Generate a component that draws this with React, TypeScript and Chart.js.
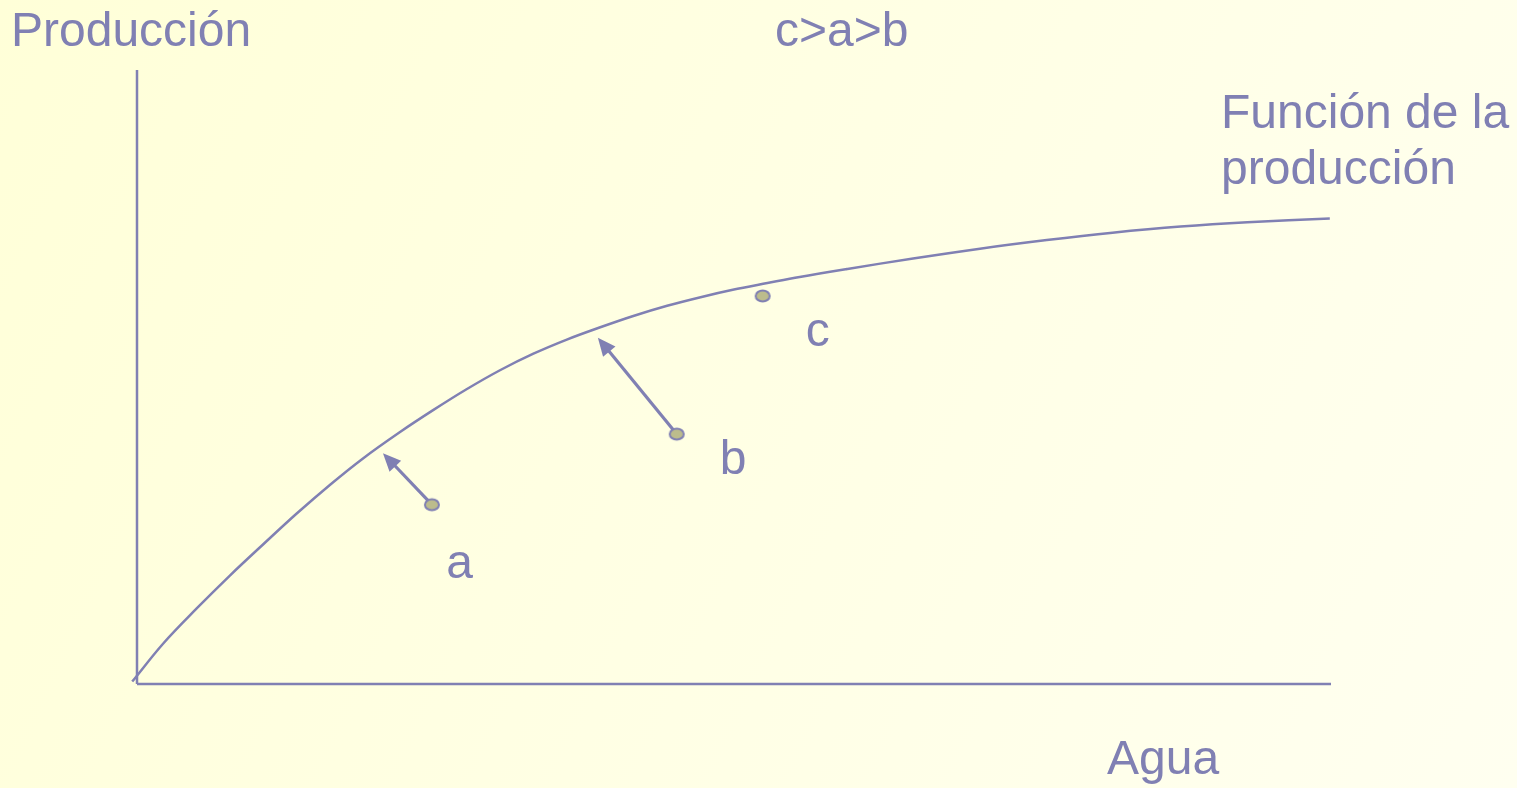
import React, { useEffect, useRef } from "react";
import { Chart, registerables } from "chart.js";

Chart.register(...registerables);

// ---- data (Agua 0–100, Producción 0–100) ----
const curveX = [-0.4, 2.2, 5.0, 7.8, 10.6, 13.4, 16.2, 18.9, 22.0, 24.8, 27.6, 30.4, 33.2, 36.0, 38.8, 41.5, 44.4, 47.2, 49.9, 52.8, 55.5, 59.5, 65.0, 70.6, 76.2, 81.7, 87.4, 93.0, 99.9];
const curveY = [0.4, 6.6, 12.3, 17.7, 22.8, 27.8, 32.5, 36.7, 41.0, 44.6, 48.0, 51.1, 53.8, 56.1, 58.1, 59.9, 61.6, 63.0, 64.2, 65.3, 66.3, 67.6, 69.3, 70.9, 72.3, 73.5, 74.5, 75.2, 75.8];

const pointLabels = ["a", "b", "c"];
const pointX = [24.7, 45.2, 52.4];
const pointY = [29.2, 40.7, 63.2];
const labelX = [25.9, 48.8, 56.0];
const labelY = [17.3, 34.2, 55.1];

const arrowFromX = [24.7, 45.2];
const arrowFromY = [29.2, 40.7];
const arrowTipX = [20.6, 38.6];
const arrowTipY = [37.6, 56.4];

const axisMin = -5;
const axisMax = 100;

const titleText = "c>a>b";
const yTitle = "Producción";
const xTitle = "Agua";
const curveLabel = ["Función de la", "producción"];

const COLOR = "#8080b3";
const DOT_FILL = "#bcbc8c";
const FONT = '48px "Liberation Sans", Arial, Helvetica, sans-serif';
const CURVE_DATASET = 1;

function makeDot(): HTMLCanvasElement {
  const c = document.createElement("canvas");
  c.width = 20;
  c.height = 16;
  const g = c.getContext("2d")!;
  g.beginPath();
  g.ellipse(10, 8, 7, 5.5, 0, 0, Math.PI * 2);
  g.fillStyle = DOT_FILL;
  g.fill();
  g.lineWidth = 2;
  g.strokeStyle = COLOR;
  g.stroke();
  return c;
}

const arrowPlugin = {
  id: "arrows",
  afterDatasetDraw(chart: any, args: any) {
    if (args.index !== CURVE_DATASET) return;
    const { ctx, scales } = chart;
    const xs = scales.x;
    const ys = scales.y;
    ctx.save();
    for (let i = 0; i < arrowTipX.length; i++) {
      const x0 = xs.getPixelForValue(arrowFromX[i]);
      const y0 = ys.getPixelForValue(arrowFromY[i]);
      const x1 = xs.getPixelForValue(arrowTipX[i]);
      const y1 = ys.getPixelForValue(arrowTipY[i]);
      const ang = Math.atan2(y1 - y0, x1 - x0);
      const headLen = 18;
      const headW = 8;
      const bx = x1 - headLen * Math.cos(ang);
      const by = y1 - headLen * Math.sin(ang);
      ctx.strokeStyle = COLOR;
      ctx.lineWidth = 3.2;
      ctx.beginPath();
      ctx.moveTo(x0, y0);
      ctx.lineTo(bx + 2 * Math.cos(ang), by + 2 * Math.sin(ang));
      ctx.stroke();
      ctx.fillStyle = COLOR;
      ctx.beginPath();
      ctx.moveTo(x1, y1);
      ctx.lineTo(bx + headW * Math.sin(ang), by - headW * Math.cos(ang));
      ctx.lineTo(bx - headW * Math.sin(ang), by + headW * Math.cos(ang));
      ctx.closePath();
      ctx.fill();
    }
    ctx.restore();
  },
};

const textPlugin = {
  id: "texts",
  afterDraw(chart: any) {
    const { ctx, scales } = chart;
    const xs = scales.x;
    const ys = scales.y;
    ctx.save();
    ctx.font = FONT;
    ctx.fillStyle = COLOR;
    ctx.textBaseline = "alphabetic";
    ctx.textAlign = "left";
    for (let i = 0; i < pointLabels.length; i++) {
      ctx.fillText(pointLabels[i], xs.getPixelForValue(labelX[i]), ys.getPixelForValue(labelY[i]));
    }
    ctx.fillText(yTitle, 11, 46);
    ctx.fillText(titleText, 775, 46);
    ctx.fillText(xTitle, 1107, 774);
    ctx.fillText(curveLabel[0], 1221, 128);
    ctx.fillText(curveLabel[1], 1221, 184);
    ctx.restore();
  },
};

export default function App() {
  const ref = useRef<HTMLCanvasElement | null>(null);

  useEffect(() => {
    if (!ref.current) return;
    const dot = makeDot();
    // Chart.js paints lower dataset indices on top: dots first, axes last.
    const chart = new Chart(ref.current, {
      type: "line",
      data: {
        datasets: [
          {
            label: "puntos",
            data: pointX.map((x, i) => ({ x, y: pointY[i] })),
            showLine: false,
            pointStyle: dot as any,
            pointRadius: 9,
            borderColor: COLOR,
            backgroundColor: DOT_FILL,
            clip: false as any,
          },
          {
            label: "Función de la producción",
            data: curveX.map((x, i) => ({ x, y: curveY[i] })),
            borderColor: COLOR,
            borderWidth: 2.5,
            pointRadius: 0,
            tension: 0.35,
            clip: false as any,
          },
          {
            label: "eje y",
            data: [
              { x: 0, y: 0 },
              { x: 0, y: axisMax },
            ],
            borderColor: COLOR,
            borderWidth: 2.5,
            pointRadius: 0,
            clip: false as any,
          },
          {
            label: "eje x",
            data: [
              { x: 0, y: 0 },
              { x: axisMax, y: 0 },
            ],
            borderColor: COLOR,
            borderWidth: 2.5,
            pointRadius: 0,
            clip: false as any,
          },
        ],
      },
      options: {
        responsive: false,
        animation: false,
        devicePixelRatio: 1,
        events: [],
        layout: {
          padding: { left: 77.3, right: 186, top: 70, bottom: 73.3 },
        },
        scales: {
          x: { type: "linear", min: axisMin, max: axisMax, display: false },
          y: { type: "linear", min: axisMin, max: axisMax, display: false },
        },
        plugins: {
          legend: { display: false },
          tooltip: { enabled: false },
          title: { display: false },
        },
      },
      plugins: [arrowPlugin, textPlugin],
    });
    return () => chart.destroy();
  }, []);

  return (
    <div
      style={{
        position: "fixed",
        left: 0,
        top: 0,
        width: 1517,
        height: 788,
        background: "linear-gradient(115deg, #ffffd8 0%, #ffffe3 45%, #fffff0 100%)",
        overflow: "hidden",
      }}
    >
      <canvas ref={ref} width={1517} height={788} style={{ display: "block" }} />
    </div>
  );
}
